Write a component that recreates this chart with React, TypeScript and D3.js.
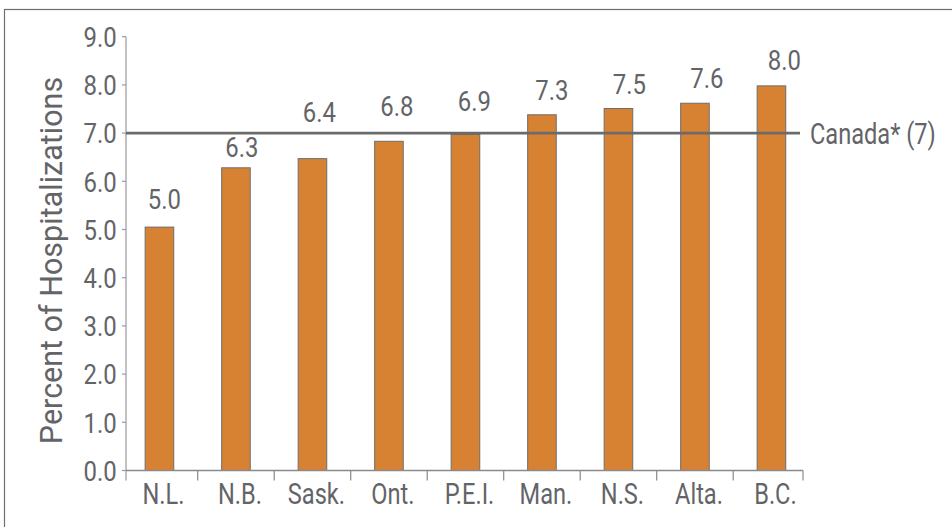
import React from "react";
import * as d3 from "d3";

const categories = ["N.L.", "N.B.", "Sask.", "Ont.", "P.E.I.", "Man.", "N.S.", "Alta.", "B.C."];
const values = [5.05, 6.28, 6.47, 6.83, 6.97, 7.38, 7.51, 7.62, 7.98];
const valueLabels = ["5.0", "6.3", "6.4", "6.8", "6.9", "7.3", "7.5", "7.6", "8.0"];
const labelAt = [5.42, 6.5, 7.22, 7.36, 7.46, 7.69, 7.81, 7.93, 8.31];
const yTicks = [0, 1, 2, 3, 4, 5, 6, 7, 8, 9];
const canadaValue = 7;
const canadaLabel = "Canada* (7)";
const yTitle = "Percent of Hospitalizations";

const W = 952;
const H = 527;
const FONT = "Roboto, 'Liberation Sans', sans-serif";
const TEXT = "#636467";

type TProps = {
  x: number;
  y: number;
  sx: number;
  fs: number;
  anchor?: "start" | "middle" | "end";
  dy?: string;
  children: React.ReactNode;
};

function T({ x, y, sx, fs, anchor = "start", dy, children }: TProps) {
  return (
    <text
      transform={`translate(${x},${y}) scale(${sx},1)`}
      textAnchor={anchor}
      dy={dy}
      fontSize={fs}
      fill={TEXT}
    >
      {children}
    </text>
  );
}

export default function App() {
  const y = d3.scaleLinear().domain([0, 9]).range([470.5, 36.7]);
  const x = d3.scaleBand<string>().domain(categories).range([121.2, 809.7]).paddingInner(0).paddingOuter(0);
  const bw = x.bandwidth();
  const barW = 28.6;
  const axisL = 126;
  const axisR = 803;
  const boundaries = categories.slice(1).map((c) => x(c) as number);
  const numFs = 28.5;
  const numSx = 0.84;
  const txtFs = 29.5;
  const txtSx = 0.8;

  return (
    <svg width={W} height={H} style={{ position: "absolute", left: 0, top: 0 }} fontFamily={FONT}>
      <rect x={0} y={0} width={W} height={H} fill="#fff" />
      <rect x={4.5} y={9.5} width={W + 20} height={H + 20} fill="none" stroke="#6f6f6f" strokeWidth={1.2} />

      {/* bars */}
      {categories.map((c, i) => {
        const cx = (x(c) as number) + bw / 2;
        return (
          <rect
            key={c}
            x={cx - barW / 2}
            y={y(values[i])}
            width={barW}
            height={y(0) - y(values[i])}
            fill="#d78233"
            stroke="#6d6d6d"
            strokeWidth={1}
          />
        );
      })}

      {/* y axis */}
      <line x1={axisL} x2={axisL} y1={y(9)} y2={480.5} stroke="#9a9a9a" strokeWidth={1.2} />
      {yTicks.map((t) => (
        <g key={t}>
          <line x1={axisL - 4} x2={axisL} y1={y(t)} y2={y(t)} stroke="#9a9a9a" strokeWidth={1.2} />
          <T x={axisL - 9.3} y={y(t)} dy="0.36em" anchor="end" fs={numFs} sx={numSx}>
            {t.toFixed(1)}
          </T>
        </g>
      ))}

      {/* x axis */}
      <line x1={axisL} x2={axisR} y1={y(0)} y2={y(0)} stroke="#8a8a8a" strokeWidth={1.5} />
      {boundaries.concat([axisR]).map((b, i) => (
        <line key={i} x1={b} x2={b} y1={y(0)} y2={480.5} stroke="#8a8a8a" strokeWidth={1.2} />
      ))}
      {categories.map((c) => (
        <T key={c} x={(x(c) as number) + bw / 2 + 4} y={504} anchor="middle" fs={txtFs} sx={txtSx}>
          {c}
        </T>
      ))}

      {/* Canada line */}
      <line x1={axisL} x2={800} y1={y(canadaValue)} y2={y(canadaValue)} stroke="#6b6b6b" strokeWidth={2.6} />
      <T x={810} y={y(canadaValue)} dy="0.36em" fs={txtFs} sx={txtSx}>
        {canadaLabel}
      </T>

      {/* value labels */}
      {categories.map((c, i) => (
        <T
          key={c}
          x={(x(c) as number) + bw / 2 + 5 + i}
          y={y(labelAt[i])}
          anchor="middle"
          fs={numFs}
          sx={numSx}
        >
          {valueLabels[i]}
        </T>
      ))}

      {/* y title */}
      <text
        transform={`translate(61.5, 260.5) rotate(-90) scale(1.0,1)`}
        textAnchor="middle"
        fontSize={30.5}
        fill={TEXT}
      >
        {yTitle}
      </text>
    </svg>
  );
}
